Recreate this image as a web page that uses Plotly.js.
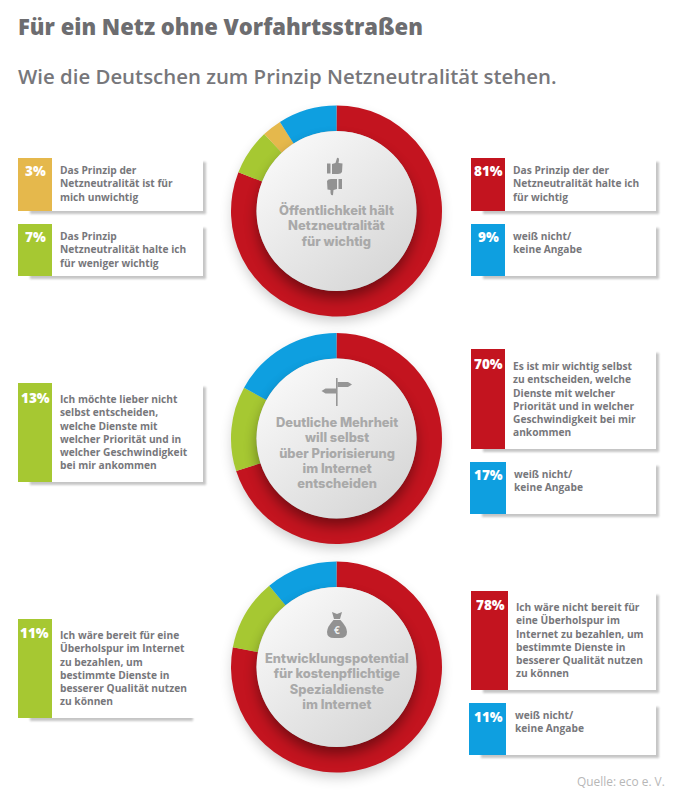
<!DOCTYPE html>
<html><head><meta charset="utf-8">
<script src="https://cdn.plot.ly/plotly-3.0.1.min.js"></script>
<style>html,body{margin:0;padding:0;background:#fff}#c{width:688px;height:805px}</style>
</head><body><div id="c"></div>
<script>
// ---------- data ----------
const titleText = "Für ein Netz ohne Vorfahrtsstraßen";
const subtitleText = "Wie die Deutschen zum Prinzip Netzneutralität stehen.";
const sourceText = "Quelle: eco e. V.";

const categories1 = ["wichtig", "weniger wichtig", "unwichtig", "weiß nicht"];
const values1 = [81, 7, 3, 9];
const colors1 = ["#c3141f", "#a6c832", "#e5b84c", "#0e9fe0"];

const categories2 = ["selbst entscheiden", "nicht selbst entscheiden", "weiß nicht"];
const values2 = [70, 13, 17];
const colors2 = ["#c3141f", "#a6c832", "#0e9fe0"];

const categories3 = ["nicht bereit", "bereit", "weiß nicht"];
const values3 = [78, 11, 11];
const colors3 = ["#c3141f", "#a6c832", "#0e9fe0"];

const centerLines1 = ["Öffentlichkeit hält", "Netzneutralität", "für wichtig"];
const centerLines2 = ["Deutliche Mehrheit", "will selbst", "über Priorisierung", "im Internet", "entscheiden"];
const centerLines3 = ["Entwicklungspotential", "für kostenpflichtige", "Spezialdienste", "im Internet"];

const text1a = ["Das Prinzip der", "Netzneutralität ist für", "mich unwichtig"];
const text1b = ["Das Prinzip", "Netzneutralität halte ich", "für weniger wichtig"];
const text1c = ["Das Prinzip der der", "Netzneutralität halte ich", "für wichtig"];
const text1d = ["weiß nicht/", "keine Angabe"];
const text2a = ["Ich möchte lieber nicht", "selbst entscheiden,", "welche Dienste mit", "welcher Priorität und in", "welcher Geschwindigkeit", "bei mir ankommen"];
const text2b = ["Es ist mir wichtig selbst", "zu entscheiden, welche", "Dienste mit welcher", "Priorität und in welcher", "Geschwindigkeit bei mir", "ankommen"];
const text2c = ["weiß nicht/", "keine Angabe"];
const text3a = ["Ich wäre bereit für eine", "Überholspur im Internet", "zu bezahlen, um", "bestimmte Dienste in", "besserer Qualität nutzen", "zu können"];
const text3b = ["Ich wäre nicht bereit für", "eine Überholspur im", "Internet zu bezahlen, um", "bestimmte Dienste in", "besserer Qualität nutzen", "zu können"];
const text3c = ["weiß nicht/", "keine Angabe"];

// ---------- layout helpers (pixel geometry of the page) ----------
const W = 688, H = 805;
const FONT = "'Open Sans', 'Noto Sans', sans-serif";
const CENTER_FONT = "Inter, 'Open Sans', sans-serif";
const TXT = "#77777b", CENTER = "#a9a9a9";
const px = x => x / W, py = y => 1 - y / H;
const cx = 336.5, R = 105.5, r = 80;
const cys = [211, 438.5, 667];

const annotations = [], shapes = [];
function label(x, y, text, size, color, anchor, weight, family) {
  annotations.push({xref:"paper", yref:"paper", x:px(x), y:py(y), text:text, showarrow:false,
    align:anchor||"left", xanchor:anchor||"left", yanchor:"middle", borderpad:0, borderwidth:0,
    font:{family:family||FONT, size:size, color:color, weight:weight||700}});
}
function card(tx0, tx1, boxRight, y0, y1, value, color, lines, textX, pctX, pctY, firstY) {
  shapes.push({type:"rect", xref:"paper", yref:"paper", layer:"below", x0:px(tx0), x1:px(boxRight), y0:py(y0), y1:py(y1), fillcolor:"#ffffff", line:{width:0}});
  shapes.push({type:"rect", xref:"paper", yref:"paper", layer:"below", x0:px(tx0), x1:px(tx1), y0:py(y0), y1:py(y1), fillcolor:color, line:{width:0}});
  label(pctX, pctY, value + "%", 13.5, "#ffffff", "center", 800);
  label(textX, firstY + (lines.length - 1) * 6.65, lines.join("<br>"), 10.2, TXT, "left", 700);
}
card(18, 52, 203, 158, 211, values1[2], colors1[2], text1a, 60, 35, 171, 170);
card(18, 52, 203, 224, 276, values1[1], colors1[1], text1b, 60, 35, 237, 236);
card(471, 505, 656, 158, 211, values1[0], colors1[0], text1c, 513, 488, 171, 170);
card(471, 505, 656, 224, 276, values1[3], colors1[3], text1d, 513, 488, 237, 236);
card(18, 52, 203, 383, 482, values2[1], colors2[1], text2a, 60, 35, 398, 399);
card(471, 505, 656, 349, 449, values2[0], colors2[0], text2b, 513, 488, 364, 366);
card(470, 506, 656, 462, 514, values2[2], colors2[2], text2c, 514, 488, 475, 474);
card(18, 52, 203, 619, 718, values3[1], colors3[1], text3a, 60, 34, 633, 635);
card(471, 508, 656, 591, 690, values3[0], colors3[0], text3b, 516, 490, 605, 607);
card(469, 506, 656, 703, 755, values3[2], colors3[2], text3c, 515, 488, 717, 715);

// the centre titles are tighter than 1.3 em: line pitch comes from font.size, glyph size from the span
const centerBlock = lines => lines.map(l => `<span style="font-size:12.9px">${l}</span>`).join("<br>");
label(cx, 225.6, centerBlock(centerLines1), 11.9, CENTER, "center", 800, CENTER_FONT);
label(cx, 452.6, centerBlock(centerLines2), 11.8, CENTER, "center", 800, CENTER_FONT);
label(cx, 681, centerBlock(centerLines3), 11.85, CENTER, "center", 800, CENTER_FONT);
label(337, 630, "€", 10, "#eeeeee", "center");

label(18, 26, titleText, 22, "#6d6d70", "left", 800);
label(18, 76, subtitleText, 20.4, "#77777b", "left", 600);
label(577, 781, sourceText, 11.9, "#b7b7b7", "left", 400);

// ---------- decoration (shadows, centre discs, icons) ----------
function boxShadow(x0, x1, y0, y1) {
  return `<rect x="${x0 + 12}" y="${y0 + 4}" width="${x1 - x0 - 9}" height="${y1 - y0 - 1}" fill="#777" opacity=".42" filter="url(#s)"/>`;
}
const boxes = [[18,203,158,211],[18,203,224,276],[471,656,158,211],[471,656,224,276],[18,203,383,482],[471,656,349,449],[470,656,462,514],[18,190,619,718],[471,656,591,690],[469,656,703,755]];
const belowSvg = `<svg xmlns="http://www.w3.org/2000/svg" width="${W}" height="${H}" viewBox="0 0 ${W} ${H}">
<defs><filter id="s" x="-20%" y="-20%" width="140%" height="140%"><feGaussianBlur stdDeviation="1"/></filter>
<filter id="o" x="-30%" y="-30%" width="160%" height="160%"><feGaussianBlur stdDeviation="7"/></filter></defs>
${boxes.map(b => boxShadow(...b)).join("")}
${cys.map(c => `<circle cx="${cx}" cy="${c + 6}" r="${R - 2}" fill="#000" opacity=".22" filter="url(#o)"/>`).join("")}
</svg>`;

const thumbs = `<g fill="#929292">
<rect x="327" y="163.5" width="3.5" height="10"/><path d="M332 164 L335.5 163 L337 158 Q339 157 339 160 L338.5 163 L342.5 163.5 L342 172 Q341 174 338 174 L332 174 Z"/>
<rect x="338.5" y="179" width="3.5" height="10"/><path d="M337 189 L333.5 190 L333 195 Q331 196 330.5 193 L330.5 190 L327.5 189.5 L327 181 Q328 179 331 179 L337 179 Z"/></g>`;
const post = `<g fill="#969696"><rect x="336" y="378" width="1.6" height="28"/>
<path d="M337.6 382 L348 382 L352 384.5 L348 387 L337.6 387 Z"/><path d="M336 388.5 L325.5 388.5 L321.5 391 L325.5 393.5 L336 393.5 Z"/></g>`;
const bag = `<g fill="#929292"><path d="M332 612 L337 614 L342 612 L340 619 L334 619 Z"/>
<path d="M333.5 620 L340.5 620 Q347 627 347 632 Q347 638 340 638 L334 638 Q327 638 327 632 Q327 627 333.5 620 Z"/></g>`;

const aboveSvg = `<svg xmlns="http://www.w3.org/2000/svg" width="${W}" height="${H}" viewBox="0 0 ${W} ${H}">
<defs><linearGradient id="d" x1=".15" y1=".1" x2=".85" y2=".95"><stop offset="0" stop-color="#f8f8f8"/><stop offset="1" stop-color="#d6d6d6"/></linearGradient>
<filter id="b" x="-30%" y="-30%" width="160%" height="160%"><feGaussianBlur stdDeviation="7"/></filter></defs>
${cys.map((c,i) => `<clipPath id="k${i}"><circle cx="${cx}" cy="${c}" r="${R}"/></clipPath>
<g clip-path="url(#k${i})"><circle cx="${cx}" cy="${c + 8}" r="${r - 1}" fill="#000" opacity=".42" filter="url(#b)"/></g>
<circle cx="${cx}" cy="${c}" r="${r}" fill="url(#d)"/>`).join("")}
${thumbs}${post}${bag}</svg>`;
const uri = s => "data:image/svg+xml;charset=utf-8," + encodeURIComponent(s);
const images = [
  {source:uri(belowSvg), xref:"paper", yref:"paper", x:0, y:1, sizex:1, sizey:1, xanchor:"left", yanchor:"top", sizing:"stretch", layer:"below"},
  {source:uri(aboveSvg), xref:"paper", yref:"paper", x:0, y:1, sizex:1, sizey:1, xanchor:"left", yanchor:"top", sizing:"stretch", layer:"above"}
];

// ---------- traces ----------
function donut(labels, values, colors, cy) {
  return {type:"pie", labels:labels, values:values, sort:false, direction:"clockwise", rotation:0,
    hole:r / R, textinfo:"none", showlegend:false, hoverinfo:"label+percent",
    marker:{colors:colors, line:{width:0}},
    domain:{x:[(cx - R) / W, (cx + R) / W], y:[py(cy + R), py(cy - R)]}};
}
const traces = [donut(categories1, values1, colors1, cys[0]), donut(categories2, values2, colors2, cys[1]), donut(categories3, values3, colors3, cys[2])];

Plotly.newPlot("c", traces, {width:W, height:H, margin:{l:0,r:0,t:0,b:0,pad:0}, paper_bgcolor:"#ffffff", plot_bgcolor:"#ffffff",
  showlegend:false, annotations:annotations, shapes:shapes, images:images}, {displayModeBar:false, staticPlot:true});
</script></body></html>
